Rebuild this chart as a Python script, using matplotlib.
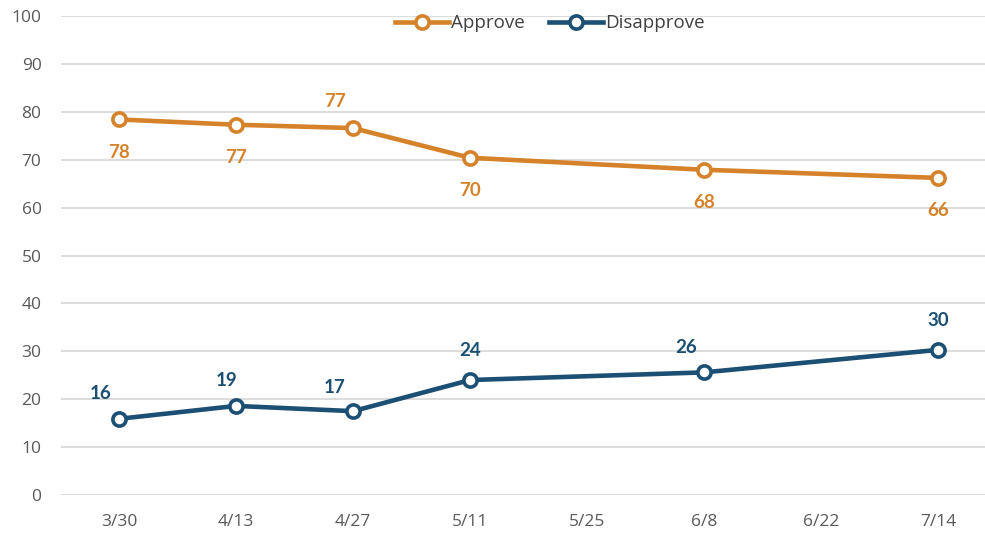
import matplotlib
matplotlib.use("Agg")
import matplotlib.pyplot as plt

plt.rcParams['font.family'] = ['Open Sans', 'DejaVu Sans']

dates = ["3/30", "4/13", "4/27", "5/11", "5/25", "6/8", "6/22", "7/14"]
# positions of the survey points among the date categories
survey_idx = [0, 1, 2, 3, 5, 7]
approve = [78.4, 77.3, 76.6, 70.4, 67.9, 66.2]
disapprove = [15.9, 18.6, 17.5, 24.0, 25.6, 30.3]
approve_labels = ["78", "77", "77", "70", "68", "66"]
disapprove_labels = ["16", "19", "17", "24", "26", "30"]

ORANGE = "#D6822A"
BLUE = "#1C4F74"

fig = plt.figure(figsize=(9.85, 5.33), dpi=100)
ax = fig.add_axes([61 / 985, 1 - 495 / 533, 1 - 61 / 985, (495 - 16) / 533])

for vals, col, name in [(approve, ORANGE, "Approve"), (disapprove, BLUE, "Disapprove")]:
    ax.plot(survey_idx, vals, color=col, lw=3.3, marker="o", ms=9.5,
            mfc="white", mec=col, mew=2.6, label=name, zorder=3)

# label offsets in points
ap_off = [(0, -23.5), (0, -23.5), (-13, 19.5), (0, -23.5), (0, -23.5), (0, -23.5)]
dis_off = [(-13, 18.5), (-7, 18), (-13, 17), (0, 21.5), (-13, 18), (0, 21.5)]
lbl_font = dict(fontsize=13.5, fontweight="bold", family=["Lato", "DejaVu Sans"])
for x, v, t, (dx, dy) in zip(survey_idx, approve, approve_labels, ap_off):
    ax.annotate(t, (x, v), xytext=(dx, dy), textcoords="offset points",
                ha="center", va="center", color=ORANGE, **lbl_font)
for x, v, t, (dx, dy) in zip(survey_idx, disapprove, disapprove_labels, dis_off):
    ax.annotate(t, (x, v), xytext=(dx, dy), textcoords="offset points",
                ha="center", va="center", color=BLUE, **lbl_font)

ax.set_ylim(0, 100)
ax.set_yticks(range(0, 101, 10))
ax.set_xlim(-0.496, (985 - 119) / 117)
ax.set_xticks(range(len(dates)))
ax.set_xticklabels(dates)
ax.grid(axis="y", color="#D9D9D9", lw=1.3)
ax.set_axisbelow(True)
for s in ax.spines.values():
    s.set_visible(False)
ax.tick_params(length=0, labelsize=12.5, labelcolor="#595959")
ax.tick_params(axis="x", pad=14)
ax.tick_params(axis="y", pad=14)

leg = ax.legend(loc="center", bbox_to_anchor=(0.529, 0.985), ncol=2, frameon=False,
                fontsize=13.5, handlelength=2.9, handletextpad=0.1, columnspacing=1.3,
                labelcolor="#404040")

fig.savefig("out.png", dpi=100)
